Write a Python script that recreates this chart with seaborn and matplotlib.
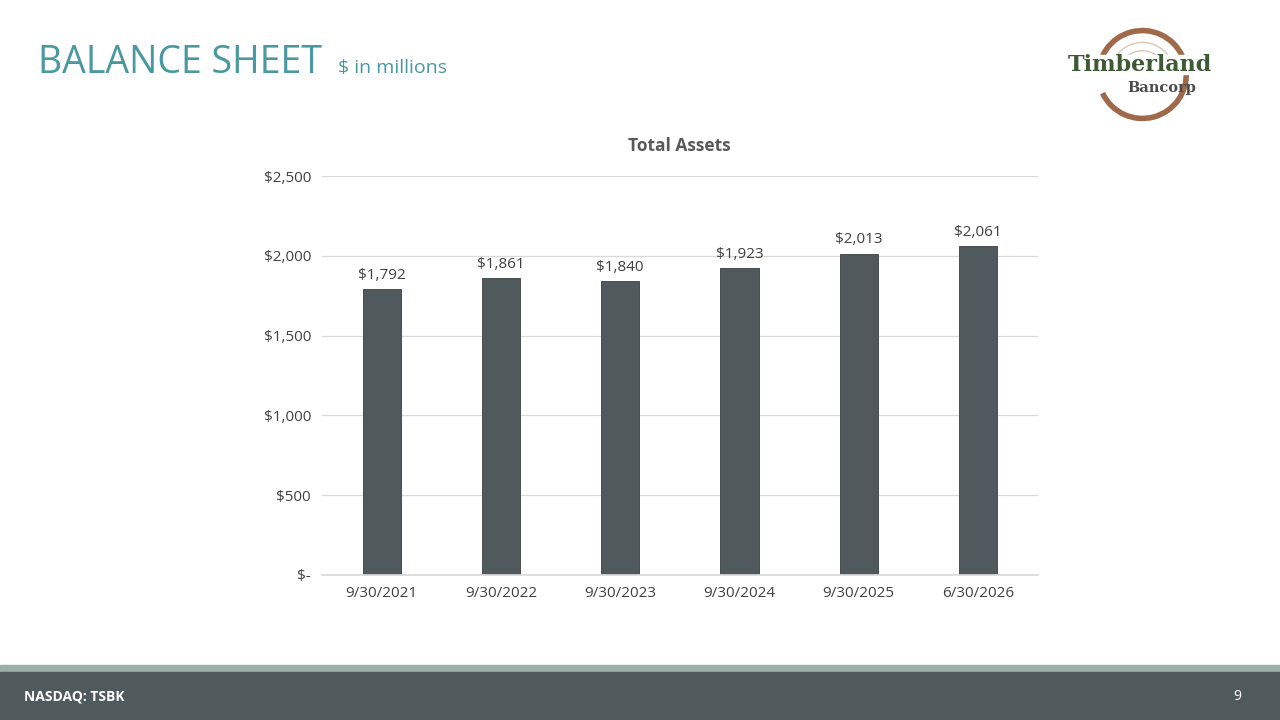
import matplotlib
matplotlib.use("Agg")
import matplotlib.pyplot as plt
import seaborn as sns
import pandas as pd
from matplotlib.patches import Rectangle, Arc

categories = ["9/30/2021", "9/30/2022", "9/30/2023", "9/30/2024", "9/30/2025", "6/30/2026"]
values = [1792, 1861, 1840, 1923, 2013, 2061]
yticks = [0, 500, 1000, 1500, 2000, 2500]
ytick_labels = ["$-", "$500", "$1,000", "$1,500", "$2,000", "$2,500"]

sns.set_theme(style="white")
plt.rcParams['font.family'] = ['Open Sans', 'DejaVu Sans']

fig = plt.figure(figsize=(12.8, 7.2), dpi=100)
ax = fig.add_axes([0.2516, 0.2014, 0.559, 0.554])
df = pd.DataFrame({"cat": categories, "val": values})
sns.barplot(data=df, x="cat", y="val", color="#50595C", saturation=1, width=0.32,
            edgecolor="#3a4042", linewidth=0.6, ax=ax)
ax.set_ylim(0, 2500)
ax.set_yticks(yticks)
ax.set_yticklabels(ytick_labels)
ax.yaxis.grid(True, color="#d9d9d9", linewidth=0.9)
ax.set_axisbelow(True)
for s in ["top", "right", "left"]:
    ax.spines[s].set_visible(False)
ax.spines["bottom"].set_color("#d9d9d9")
ax.set_xlabel("")
ax.set_ylabel("")
ax.tick_params(axis="both", labelsize=11, colors="#404040", length=0, pad=8)
for i, v in enumerate(values):
    ax.text(i, v + 40, f"${v:,}", ha="center", va="bottom", fontsize=11, color="#404040")
ax.set_title("Total Assets", fontsize=12.5, fontweight="bold", color="#595959", pad=18)

# header
fig.text(0.03, 0.913, "BALANCE SHEET", fontsize=27, color="#4A98A0", va="center")
fig.text(0.264, 0.906, "$ in millions", fontsize=14, color="#4A98A0", va="center")

# logo
lax = fig.add_axes([1140/1280 - 0.08, (720-122)/720, 0.16, 95/720])
lax.set_xlim(-1.7, 1.7); lax.set_ylim(-1, 1); lax.set_aspect("equal", adjustable="datalim"); lax.axis("off")
lax.add_patch(Arc((0.05, 0), 1.85, 1.85, theta1=-155, theta2=165, color="#A0694A", linewidth=4))
lax.add_patch(Arc((0.05, 0), 1.35, 1.35, theta1=20, theta2=160, color="#d9c8b8", linewidth=1))
lax.add_patch(Arc((0.05, 0), 1.0, 1.0, theta1=25, theta2=155, color="#d9c8b8", linewidth=1))
lax.add_patch(Rectangle((-1.5, 0.02), 3.0, 0.38, color="white"))
lax.text(0.0, 0.2, "Timberland", ha="center", va="center", fontsize=16, fontweight="bold",
         color="#3E5A35", family="DejaVu Serif")
lax.text(0.45, -0.28, "Bancorp", ha="center", va="center", fontsize=10.5, fontweight="bold",
         color="#4a4a4a", family="DejaVu Serif")

# footer
fig.add_artist(Rectangle((0, 0), 1, 55/720, transform=fig.transFigure, color="#9BB0A9"))
fig.add_artist(Rectangle((0, 0), 1, 48/720, transform=fig.transFigure, color="#50595C"))
fig.text(0.019, 0.033, "NASDAQ: TSBK", fontsize=10, fontweight="bold", color="white", va="center")
fig.text(0.97, 0.033, "9", fontsize=10, color="white", va="center", ha="right")

fig.savefig("out.png", dpi=100)
